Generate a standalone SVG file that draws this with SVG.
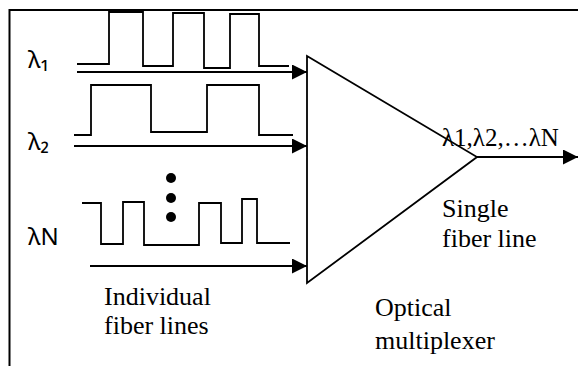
<svg xmlns="http://www.w3.org/2000/svg" width="578" height="366" viewBox="0 0 578 366">
<style>
.wave{fill:none;stroke:#000;stroke-width:1.8}
.conn{fill:none;stroke:#000;stroke-width:2.2}
</style>
<defs>
<marker id="ah" markerUnits="userSpaceOnUse" markerWidth="15" markerHeight="15" refX="15" refY="7.5" orient="auto" viewBox="0 0 15 15">
<path d="M0,0 L15,7.5 L0,15 z" fill="#000"/>
</marker>
</defs>
<rect width="578" height="366" fill="#fff"/>
<g id="frame">
<path d="M9.5,366 V10 H578" fill="none" stroke="#000" stroke-width="2"/>
</g>
<g font-family="Noto Sans, DejaVu Sans, sans-serif" font-size="24">
<g id="signal1">
<text x="28" y="68">λ₁</text>
<path class="wave" d="M77,64 H109 V12 H143 V66 H173 V13 H204 V68 H230 V14 H259 V66 H289"/>
</g>
<g id="signal2">
<text x="28" y="150">λ₂</text>
<path class="wave" d="M74,135 H91 V85 H151 V132 H207 V85 H259 V135 H293"/>
</g>
<g id="dots">
<circle cx="171" cy="178" r="5"/>
<circle cx="171" cy="198" r="5"/>
<circle cx="171" cy="217" r="5"/>
</g>
<g id="signalN">
<text x="28" y="245">λN</text>
<path class="wave" d="M82,203 H101 V244 H123 V202 H144 V245 H199 V203 H221 V243 H242 V199 H257 V243 H290"/>
</g>
</g>
<g id="multiplexer">
<path d="M307,56 L477,157 L307,283 Z" fill="none" stroke="#000" stroke-width="1.8"/>
</g>
<g id="connectors">
<line class="conn" x1="77" y1="72" x2="307" y2="72" marker-end="url(#ah)"/>
<line class="conn" x1="74" y1="146" x2="307" y2="146" marker-end="url(#ah)"/>
<line class="conn" x1="90" y1="266" x2="307" y2="266" marker-end="url(#ah)"/>
<line class="conn" x1="477" y1="157" x2="578" y2="157" marker-end="url(#ah)"/>
</g>
<g id="labels" font-family="Liberation Serif, Times New Roman, serif" font-size="26">
<text x="442" y="146" font-size="25">λ1,λ2,…λN</text>
<text x="442" y="217">Single</text>
<text x="442" y="247">fiber line</text>
<text x="104" y="305">Individual</text>
<text x="104" y="334">fiber lines</text>
<text x="375" y="316">Optical</text>
<text x="375" y="349">multiplexer</text>
</g>
</svg>
